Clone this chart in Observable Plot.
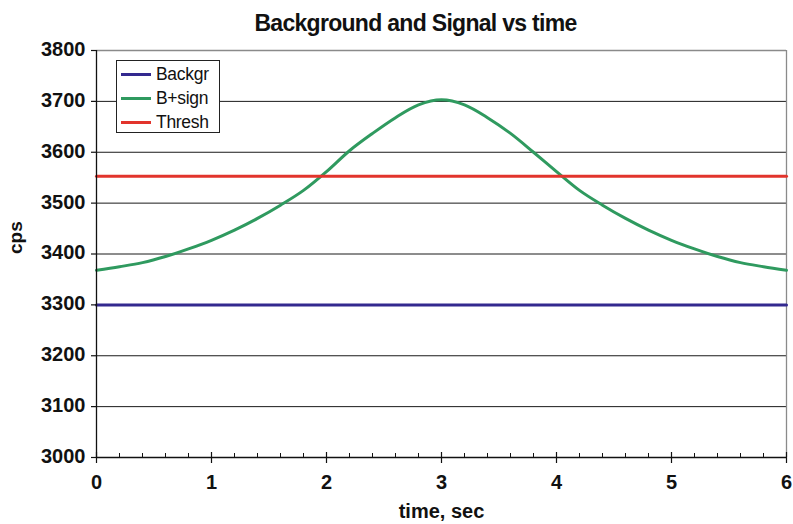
<!DOCTYPE html>
<html><head><meta charset="utf-8">
<script src="https://cdn.jsdelivr.net/npm/d3@7"></script>
<script src="https://cdn.jsdelivr.net/npm/@observablehq/plot@0.6"></script>
<style>
body{margin:0;background:#fff}
#chart{position:relative;width:793px;height:524px;font-family:'Liberation Sans',Arial,sans-serif}
#legend{position:absolute;left:116px;top:60px;width:102px;height:71px;border:1.3px solid #222;background:#fff;box-sizing:content-box}
#legend .row{position:absolute;left:4px;height:24px;display:flex;align-items:center;font-size:17.5px;color:#111;letter-spacing:-0.3px}
#legend .sw{width:30px;height:3px;margin-right:5px}
</style>
</head><body><div id="chart"><div id="legend"></div></div>
<script>
const titleText = "Background and Signal vs time";
const xLabel = "time, sec";
const yLabel = "cps";
const time = [0,0.2,0.4,0.6,0.8,1.0,1.2,1.4,1.6,1.8,2.0,2.2,2.4,2.6,2.8,3.0,3.2,3.4,3.6,3.8,4.0,4.2,4.4,4.6,4.8,5.0,5.2,5.4,5.6,5.8,6.0];
const bSign = [3368,3375,3383,3395,3410,3427,3447,3470,3496,3525,3562,3603,3637,3668,3693,3703,3693,3668,3637,3600,3562,3525,3496,3470,3447,3427,3410,3395,3383,3375,3368];
const backgr = [3300,3300,3300,3300,3300,3300,3300,3300,3300,3300,3300,3300,3300,3300,3300,3300,3300,3300,3300,3300,3300,3300,3300,3300,3300,3300,3300,3300,3300,3300,3300];
const thresh = [3553,3553,3553,3553,3553,3553,3553,3553,3553,3553,3553,3553,3553,3553,3553,3553,3553,3553,3553,3553,3553,3553,3553,3553,3553,3553,3553,3553,3553,3553,3553];
const seriesNames = ["Backgr","B+sign","Thresh"];
const seriesColors = ["#33298f","#2f9a5f","#e2342c"];
const yTicks = [3000,3100,3200,3300,3400,3500,3600,3700,3800];
const xTicks = [0,1,2,3,4,5,6];

const seriesValues = [backgr, bSign, thresh];
const rows = [];
seriesNames.forEach((s, i) => time.forEach((t, j) => rows.push({series: s, t, v: seriesValues[i][j]})));

const font = "'Liberation Sans', Arial, sans-serif";
const plot = Plot.plot({
  width: 793, height: 524,
  marginLeft: 96, marginRight: 7, marginTop: 50, marginBottom: 67,
  style: {fontFamily: font, background: "#fff", color: "#111"},
  x: {domain: [0, 6]},
  y: {domain: [3000, 3800]},
  color: {domain: seriesNames, range: seriesColors},
  marks: [
    Plot.ruleY(yTicks.slice(1, -1), {stroke: "#1a1a1a", strokeWidth: 1}),
    Plot.ruleY([3800], {stroke: "#8a8a8a", strokeWidth: 1.3}),
    Plot.ruleX([6], {stroke: "#8a8a8a", strokeWidth: 1.3}),
    Plot.line(rows, {x: "t", y: "v", z: "series", stroke: "series", strokeWidth: 3, curve: "monotone-x"}),
    Plot.ruleX([0], {stroke: "#111", strokeWidth: 1.3}),
    Plot.ruleY([3000], {stroke: "#111", strokeWidth: 1.3}),
    Plot.axisY({ticks: yTicks, tickSize: 5, tickFormat: () => "", label: null, strokeWidth: 1.2}),
    Plot.axisY({ticks: yTicks, tickSize: 0, tickPadding: 11, tickFormat: d => String(d), label: null, fontSize: 20, fontWeight: "bold", dy: -1}),
    Plot.axisX({ticks: xTicks, tickSize: 11, dy: -5, tickFormat: () => "", label: null, strokeWidth: 1.2}),
    Plot.axisX({ticks: time, tickSize: 4, dy: -4, tickFormat: () => "", label: null, strokeWidth: 1}),
    Plot.axisX({ticks: xTicks, tickSize: 0, tickPadding: 17, tickFormat: d => String(d), label: null, fontSize: 20, fontWeight: "bold"}),
    Plot.text([titleText], {frameAnchor: "top", dx: -26, dy: -36, fontSize: 23, fontWeight: "bold", fill: "#111"}),
    Plot.text([xLabel], {frameAnchor: "bottom", dy: 60, fontSize: 20, fontWeight: "bold", fill: "#111"}),
    Plot.text([yLabel], {frameAnchor: "left", dx: -81, rotate: -90, fontSize: 19, fontWeight: "bold", fill: "#111"})
  ]
});
document.getElementById("chart").prepend(plot);
d3.select(plot).selectAll("text").filter(function() { return this.textContent === titleText; })
  .style("letter-spacing", "-0.7px");

const legend = d3.select("#legend");
seriesNames.forEach((s, i) => {
  const row = legend.append("div").attr("class", "row").style("top", (1 + i * 24) + "px");
  row.append("div").attr("class", "sw").style("background", seriesColors[i]);
  row.append("span").text(s);
});
</script>
</body></html>
